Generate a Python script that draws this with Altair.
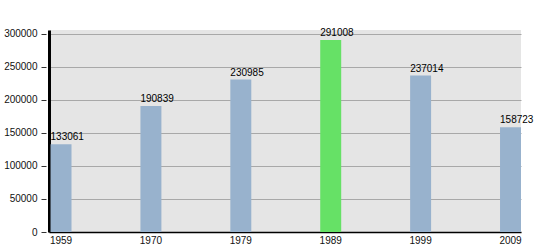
import altair as alt
import pandas as pd

years = ["1959", "1970", "1979", "1989", "1999", "2009"]
population = [133061, 190839, 230985, 291008, 237014, 158723]
highlight = ["no", "no", "no", "yes", "no", "no"]

df = pd.DataFrame({"year": years, "pop": population, "hl": highlight})

FONT = "Liberation Sans"

x_scale = alt.Scale(paddingInner=0.7667, paddingOuter=0.0085, align=1)
y_scale = alt.Scale(domain=[0, 306000], nice=False)

x_axis = alt.Axis(
    title=None,
    labelAngle=0,
    ticks=False,
    labelPadding=3,
    labelFontSize=10,
    labelFont=FONT,
    labelColor="#111111",
    domainColor="#000000",
    domainWidth=1.5,
    grid=False,
)

y_axis = alt.Axis(
    title=None,
    values=[0, 50000, 100000, 150000, 200000, 250000, 300000],
    format="d",
    labelOverlap=False,
    labelFontSize=10,
    labelFont=FONT,
    labelColor="#111111",
    labelPadding=3,
    tickSize=9,
    tickDash=[0, 3, 5, 10],
    tickColor="#333333",
    domainColor="#000000",
    domainWidth=3,
    grid=True,
    gridColor="#a8a8a8",
    gridWidth=1,
)

bars = alt.Chart(df).mark_bar().encode(
    x=alt.X("year:N", sort=years, scale=x_scale, axis=x_axis),
    y=alt.Y("pop:Q", scale=y_scale, axis=y_axis),
    color=alt.Color(
        "hl:N",
        scale=alt.Scale(domain=["no", "yes"], range=["#98b2cd", "#66e166"]),
        legend=None,
    ),
)

labels = alt.Chart(df).mark_text(
    align="left", baseline="alphabetic", dy=-4, fontSize=10, font=FONT, color="#000000"
).encode(
    x=alt.X("year:N", sort=years, scale=x_scale, axis=x_axis, bandPosition=0),
    y=alt.Y("pop:Q", scale=y_scale, axis=y_axis),
    text=alt.Text("pop:Q", format="d"),
)

chart = (
    alt.layer(bars, labels)
    .properties(
        width=472,
        height=202,
        autosize=alt.AutoSizeParams(type="none"),
        padding={"left": 49, "top": 30, "right": 29, "bottom": 18},
        background="#ffffff",
    )
    .configure_view(fill="#e5e5e5", stroke=None)
)

chart.save("out.html", embed_options={"renderer": "svg", "actions": False})
